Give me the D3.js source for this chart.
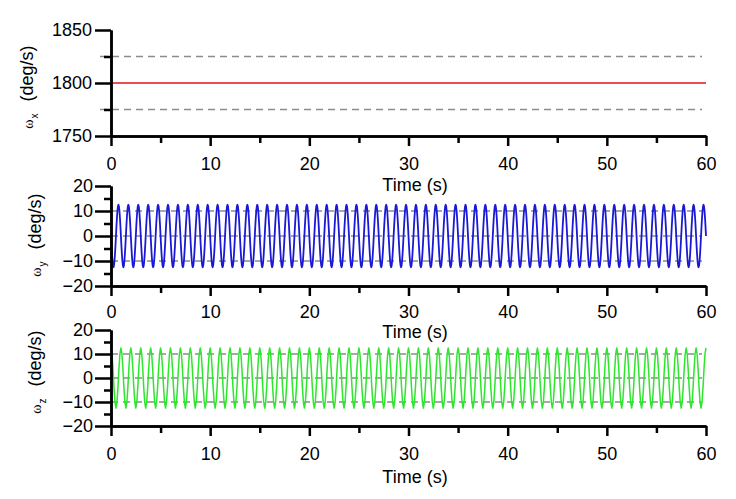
<!DOCTYPE html>
<html>
<head>
<meta charset="utf-8">
<script src="https://cdn.jsdelivr.net/npm/d3@7"></script>
<style>
    body { margin: 0; background: #fff; }
    text { font-family: "Liberation Sans", Arial, sans-serif; font-size: 18px; fill: #000; }
    .axis path, .axis line { stroke: #000; stroke-width: 2.5px; }
</style>
</head>
<body>
<svg id="chart" width="736" height="499"></svg>
<script>
// values
var timeSpan = [0, 60],
    timeTicks = [0, 10, 20, 30, 40, 50, 60],
    timeMinorTicks = [5, 15, 25, 35, 45, 55];

var omegaXRange = [1750, 1850],
    omegaXTicks = [1750, 1800, 1850],
    omegaXMinorTicks = [1775, 1825],
    omegaXLevel = 1800,
    omegaXBounds = [1775, 1825];

var rateRange = [-20, 20],
    rateTicks = [-20, -10, 0, 10, 20],
    rateMinorTicks = [-15, -5, 5, 15],
    rateGuides = [-10, 0, 10];

// one 1 s period of each oscillation; it repeats for 60 s
var cyclePeriod = 1,
    cycleCount = 60;
var omegaYCycle = [0, -3.9, -7.3, -10.1, -11.9, -12.5, -11.9, -10.1, -7.3, -3.9,
                   0, 3.9, 7.3, 10.1, 11.9, 12.5, 11.9, 10.1, 7.3, 3.9];
var omegaZCycle = [12.5, 10.1, 3.9, -3.9, -10.1, -12.5, -10.1, -3.9, 3.9, 10.1];

var svg = d3.select("#chart"),
    left = 111,
    right = 706;

var x = d3.scaleLinear().domain(timeSpan).range([left, right]);

function repeatCycle(cycle) {
    var pts = [], n = cycle.length;
    for (var c = 0; c < cycleCount; c++) {
        for (var k = 0; k < n; k++) {
            pts.push([(c + k / n) * cyclePeriod, cycle[k]]);
        }
    }
    pts.push([cycleCount * cyclePeriod, cycle[0]]);
    return pts;
}

function drawPanel(p) {
    var y = d3.scaleLinear().domain(p.domain).range([p.bottom, p.top]);
    var g = svg.append("g");

    // dashed guides
    g.selectAll("line.guide").data(p.guides).enter().append("line")
        .attr("class", "guide")
        .attr("x1", p.guideStart).attr("x2", 702)
        .attr("y1", function (d) { return y(d); })
        .attr("y2", function (d) { return y(d); })
        .attr("stroke", "#8c8c8c").attr("stroke-width", 1.5)
        .attr("stroke-dasharray", "7,5");

    var line = d3.line()
        .x(function (d) { return x(d[0]); })
        .y(function (d) { return y(d[1]); });

    g.append("path").datum(p.series)
        .attr("fill", "none")
        .attr("stroke", p.color)
        .attr("stroke-width", p.width)
        .attr("stroke-linejoin", "round")
        .attr("d", line);

    // minor ticks
    g.append("g").attr("class", "axis")
        .attr("transform", "translate(0," + p.bottom + ")")
        .call(d3.axisBottom(x).tickValues(timeMinorTicks).tickSizeInner(7).tickSizeOuter(0).tickFormat(""));
    g.append("g").attr("class", "axis")
        .attr("transform", "translate(" + left + ",0)")
        .call(d3.axisLeft(y).tickValues(p.minorTicks).tickSizeInner(7).tickSizeOuter(0).tickFormat(""));

    // major ticks
    var xa = g.append("g").attr("class", "axis")
        .attr("transform", "translate(0," + p.bottom + ")")
        .call(d3.axisBottom(x).tickValues(timeTicks).tickSizeInner(10).tickSizeOuter(0).tickPadding(p.xPad).tickFormat(d3.format("d")));
    var ya = g.append("g").attr("class", "axis")
        .attr("transform", "translate(" + left + ",0)")
        .call(d3.axisLeft(y).tickValues(p.ticks).tickSizeInner(16).tickSizeOuter(0).tickPadding(p.yPad).tickFormat(d3.format("d")));
    xa.selectAll("text").attr("font-family", null).attr("font-size", null);
    ya.selectAll("text").attr("font-family", null).attr("font-size", null);

    svg.append("text")
        .attr("x", 415).attr("y", p.timeY)
        .attr("text-anchor", "middle")
        .text("Time (s)");

    var t = svg.append("text")
        .attr("transform", "translate(" + p.labelX + "," + p.labelY + ") rotate(-90)")
        .attr("text-anchor", "middle");
    t.append("tspan").style("font-family", "'Liberation Serif', serif").style("font-size", "14px").text("\u03c9");
    t.append("tspan").style("font-size", "10px").attr("dy", 5).attr("dx", 1).text(p.sub);
    t.append("tspan").attr("dy", -5).attr("dx", 12).text("(deg/s)");
}

drawPanel({
    top: 30, bottom: 136, domain: omegaXRange,
    ticks: omegaXTicks, minorTicks: omegaXMinorTicks,
    guides: omegaXBounds, guideStart: 100,
    series: [[timeSpan[0], omegaXLevel], [timeSpan[1], omegaXLevel]],
    color: "#e8101a", width: 1.6, xPad: 11, yPad: 3,
    timeY: 191, labelX: 33, labelY: 87, sub: "x"
});

drawPanel({
    top: 186, bottom: 286, domain: rateRange,
    ticks: rateTicks, minorTicks: rateMinorTicks,
    guides: rateGuides, guideStart: 111,
    series: repeatCycle(omegaYCycle),
    color: "#1a1ad6", width: 1.8, xPad: 9, yPad: 2,
    timeY: 338, labelX: 41, labelY: 235, sub: "y"
});

drawPanel({
    top: 330, bottom: 426, domain: rateRange,
    ticks: rateTicks, minorTicks: rateMinorTicks,
    guides: rateGuides, guideStart: 111,
    series: repeatCycle(omegaZCycle),
    color: "#2ee62e", width: 1.5, xPad: 11, yPad: 2,
    timeY: 483, labelX: 41, labelY: 372, sub: "z"
});
</script>
</body>
</html>
